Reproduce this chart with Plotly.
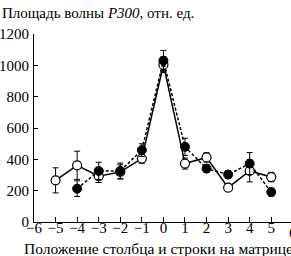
import plotly.graph_objects as go

x_open = [-5, -4, -3, -2, -1, 0, 1, 2, 3, 4, 5]
y_open = [266, 362, 292, 320, 405, 1004, 373, 412, 219, 326, 287]
e_open = [80, 90, 40, 45, 30, 50, 35, 30, 25, 70, 30]

x_fill = [-4, -3, -2, -1, 0, 1, 2, 3, 4, 5]
y_fill = [213, 326, 326, 459, 1030, 480, 341, 303, 373, 191]
e_fill = [50, 55, 50, 40, 65, 55, 25, 25, 70, 25]

title_text = "Площадь волны <i>P300</i>, отн. ед."
xlabel_text = "Положение столбца и строки на матрице"
x_ticks = list(range(-6, 7))
y_ticks = [0, 200, 400, 600, 800, 1000, 1200]

FONT = "Liberation Serif"

fig = go.Figure()
fig.add_trace(go.Scatter(
    x=x_open, y=y_open, mode="lines+markers",
    line=dict(color="black", width=1.5),
    marker=dict(symbol="circle", size=9, color="white", line=dict(color="black", width=1.2)),
    error_y=dict(type="data", array=e_open, color="black", thickness=1, width=3),
    showlegend=False,
))
fig.add_trace(go.Scatter(
    x=x_fill, y=y_fill, mode="lines+markers",
    line=dict(color="black", width=1.5, dash="3px,2px"),
    marker=dict(symbol="circle", size=9, color="black", line=dict(color="black", width=1)),
    error_y=dict(type="data", array=e_fill, color="black", thickness=1, width=3),
    showlegend=False,
))

fig.update_layout(
    width=291, height=256,
    margin=dict(l=34, r=0, t=34, b=34),
    paper_bgcolor="white", plot_bgcolor="white",
    font=dict(family=FONT, size=15, color="black"),
    xaxis=dict(range=[-6, 5.915], tickvals=x_ticks, ticks="inside", ticklen=5,
               tickcolor="black", showline=True, linecolor="black", linewidth=1,
               showgrid=False, zeroline=False, tickfont=dict(family=FONT, size=15),
               ticklabelstandoff=-8),
    yaxis=dict(range=[0, 1200], tickvals=y_ticks, ticks="inside", ticklen=4,
               tickcolor="black", showline=True, linecolor="black", linewidth=1,
               showgrid=False, zeroline=False, tickfont=dict(family=FONT, size=15),
               ticklabelstandoff=1),
    annotations=[
        dict(text=title_text, xref="paper", yref="paper", x=-0.134, y=1.112,
             xanchor="left", yanchor="middle", showarrow=False,
             font=dict(family=FONT, size=15)),
        dict(text=xlabel_text, xref="paper", yref="paper", x=-0.0467, y=-0.1436,
             xanchor="left", yanchor="middle", showarrow=False,
             font=dict(family=FONT, size=15.5)),
        dict(text="6", xref="paper", yref="paper", x=(6 + 6) / 11.915, y=-0.057,
             xanchor="center", yanchor="middle", showarrow=False,
             font=dict(family=FONT, size=15)),
    ],
)

fig.write_html("out.html")
